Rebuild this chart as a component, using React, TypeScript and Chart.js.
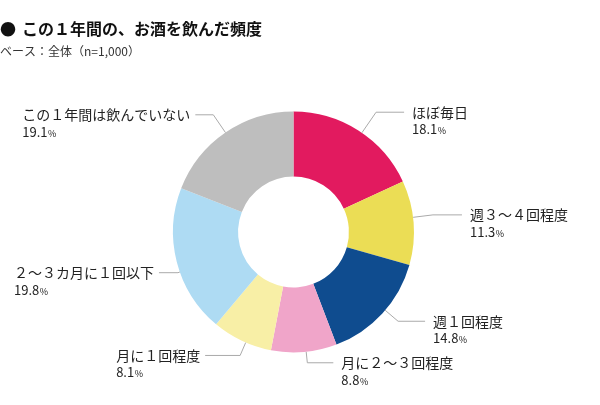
import React, { useEffect, useRef } from "react";
import { Chart, registerables } from "chart.js";

Chart.register(...registerables);

const titleText = "この１年間の、お酒を飲んだ頻度";
const subtitleText = "ベース：全体（n=1,000）";
const categories = [
  "ほぼ毎日",
  "週３～４回程度",
  "週１回程度",
  "月に２～３回程度",
  "月に１回程度",
  "２～３カ月に１回以下",
  "この１年間は飲んでいない",
];
const values = [18.1, 11.3, 14.8, 8.8, 8.1, 19.8, 19.1];
const sliceColors = ["#E21A5F", "#EBDD55", "#0F4C8F", "#F0A5C9", "#F8EFA6", "#AEDBF3", "#BEBEBE"];

// leader layout tweaks (degrees offset from slice middle, radial extension, horizontal length)
const leaderAngleTweak = [2, -2.5, -2, -1, -2, -5, 0];
const leaderExt = [25, 20, 17, 11, 14, 2, 21.5];
const leaderLen = [28, 29, 27, 26, 35, 19, 18];

const JP = '"Noto Sans CJK JP", "Noto Sans", sans-serif';

const labelPlugin = {
  id: "leaderLabels",
  afterDraw(chart: any) {
    const ctx = chart.ctx as CanvasRenderingContext2D;
    // title
    ctx.save();
    ctx.fillStyle = "#111";
    ctx.textBaseline = "middle";
    ctx.textAlign = "left";
    ctx.font = `bold 16px ${JP}`;
    ctx.fillText("●", 0, 29);
    ctx.fillText(titleText, 22, 29);
    ctx.font = `12px ${JP}`;
    ctx.fillStyle = "#333";
    ctx.fillText(subtitleText, 0, 51);
    ctx.restore();

    const meta = chart.getDatasetMeta(0);
    meta.data.forEach((arc: any, i: number) => {
      const p = arc.getProps(["x", "y", "startAngle", "endAngle", "outerRadius"], true);
      const a = (p.startAngle + p.endAngle) / 2 + (leaderAngleTweak[i] * Math.PI) / 180;
      const sx = p.x + p.outerRadius * Math.cos(a);
      const sy = p.y + p.outerRadius * Math.sin(a);
      const r2 = p.outerRadius + leaderExt[i];
      const ex = p.x + r2 * Math.cos(a);
      const ey = p.y + r2 * Math.sin(a);
      const right = Math.cos(a) >= 0;
      const endX = ex + (right ? leaderLen[i] : -leaderLen[i]);
      ctx.save();
      ctx.strokeStyle = "#AAAAAA";
      ctx.lineWidth = 1;
      ctx.beginPath();
      ctx.moveTo(sx, sy);
      ctx.lineTo(ex, ey);
      ctx.lineTo(endX, ey);
      ctx.stroke();

      ctx.fillStyle = "#222";
      ctx.textBaseline = "middle";
      ctx.textAlign = "left";
      ctx.font = `14px ${JP}`;
      const w1 = ctx.measureText(categories[i]).width;
      const x0 = right ? endX + 8 : endX - 5 - w1;
      ctx.fillText(categories[i], x0, ey);
      const num = values[i].toFixed(1);
      ctx.font = `13px ${JP}`;
      ctx.fillText(num, x0, ey + 17);
      const wn = ctx.measureText(num).width;
      ctx.font = `9px ${JP}`;
      ctx.fillText("%", x0 + wn + 0.5, ey + 18.5);
      ctx.restore();
    });
  },
};

export default function App() {
  const ref = useRef<HTMLCanvasElement | null>(null);
  useEffect(() => {
    document.body.style.margin = "0";
    if (!ref.current) return;
    const chart = new Chart(ref.current, {
      type: "doughnut",
      data: {
        labels: categories,
        datasets: [
          {
            data: values,
            backgroundColor: sliceColors,
            borderWidth: 0,
          },
        ],
      },
      options: {
        responsive: false,
        animation: false,
        cutout: "46%",
        layout: { padding: { left: 173, right: 186, top: 111.5, bottom: 52.5 } },
        plugins: {
          legend: { display: false },
          tooltip: { enabled: false },
          title: { display: false },
        },
      },
      plugins: [labelPlugin],
    });
    return () => chart.destroy();
  }, []);
  return (
    <div style={{ width: 600, height: 405, background: "#fff" }}>
      <canvas ref={ref} width={600} height={405} />
    </div>
  );
}
